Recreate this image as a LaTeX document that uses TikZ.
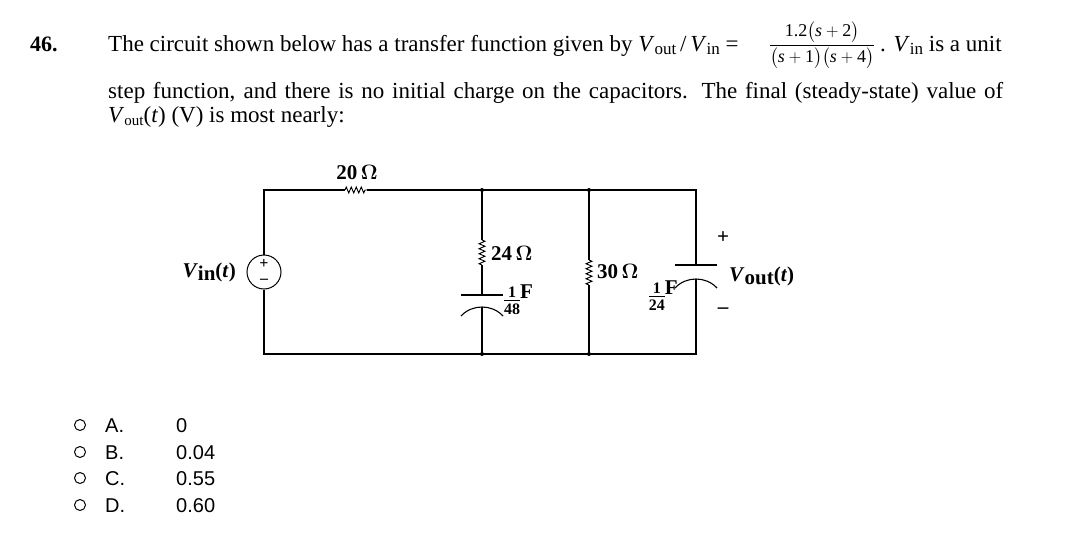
\documentclass[tikz,border=0pt]{standalone}
\usepackage{amsmath}
\usepackage{fontspec}
\setmainfont{Liberation Serif}
\newfontfamily\optfont{Liberation Sans}
\usetikzlibrary{decorations.pathmorphing}
\newcommand{\sbs}[1]{\raisebox{-0.3ex}{\fontsize{17}{17}\selectfont #1}}
\newcommand{\smfr}[2]{\raisebox{-0.55ex}{\fontsize{16}{16}\selectfont\begin{tabular}{@{}c@{}}\rule{0pt}{1.8ex}#1\\[-0.35ex]\hline\rule{0pt}{2ex}#2\end{tabular}}}
\begin{document}
\begin{tikzpicture}[x=1pt,y=-1pt,
  wire/.style={line width=1.1pt},
  res/.style={line width=0.9pt,decorate,decoration={zigzag,segment length=5pt,amplitude=3pt}},
  lbl/.style={inner sep=0pt,font=\fontsize{21}{24}\selectfont\bfseries},
  txt/.style={inner sep=0pt,anchor=base west,font=\fontsize{23}{24}\selectfont},
  opt/.style={inner sep=0pt,anchor=base west,font=\optfont\fontsize{20}{22}\selectfont},
  dot/.style={circle,fill,inner sep=0pt,minimum size=4pt}]
\useasboundingbox (0,0) rectangle (1080,541);
% text
\node[txt,font=\fontsize{22}{24}\selectfont\bfseries] (num) at (30,51) {46.};
\node[txt] (l1) at (108,51) {The circuit shown below has a transfer function given by \textit{V}\sbs{out}\,/\,\textit{V}\sbs{in} =};
\node[inner sep=0pt,font=\fontsize{18}{20}\selectfont] (frac) at (822,45) {$\dfrac{\text{1.2}\bigl(\textit{s}+\text{2}\bigr)}{\bigl(\textit{s}+\text{1}\bigr)\bigl(\textit{s}+\text{4}\bigr)}$};
\node[txt] (l1b) at (880,51) {. \textit{V}\sbs{in} is a unit};
\node[txt,text width=895pt,align=justify,anchor=north west] (l2) at (108,82) {step function, and there is no initial charge on the capacitors. The final (steady-state) value of \textit{V}\raisebox{-0.3ex}{\fontsize{15}{15}\selectfont out}(\textit{t}) (V) is most nearly:};
% nodes of circuit
\coordinate (tl) at (264,190); \coordinate (bl) at (264,354);
\coordinate (tm) at (482,190); \coordinate (bm) at (482,354);
\coordinate (tn) at (589,190); \coordinate (bn) at (589,354);
\coordinate (tr) at (696,190); \coordinate (br) at (696,354);
\node[draw,circle,line width=1pt,minimum size=34pt,inner sep=0pt] (src) at (264,272) {};
\node[inner sep=0pt,font=\fontsize{16}{16}\selectfont\bfseries] (sp) at (264,264) {+};
\node[inner sep=0pt,font=\fontsize{16}{16}\selectfont\bfseries] (sm) at (264,281) {--};
\node[lbl,anchor=east] (vin) at (236,272) {\textit{V}\raisebox{-0.4ex}{in}(\textit{t})};
% wires
\draw[wire] (src.north) -- (tl) -- (345,190);
\draw[res] (345,190) -- (367,190);
\draw[wire] (367,190) -- (tr) -- (696,265);
\draw[wire] (src.south) -- (bl) -- (br) -- (696,279);
\node[lbl] (r20) at (357,172) {20\,$\boldsymbol\Omega$};
% 24 ohm + 1/48F
\draw[wire] (tm) -- (482,240);
\draw[res] (482,240) -- (482,265);
\draw[wire] (482,265) -- (482,295);
\draw[wire] (461,295) -- (503,295);
\draw[wire] (461,316) .. controls (472,304) and (492,304) .. (503,316);
\draw[wire] (482,307) -- (bm);
\node[lbl,anchor=west] (r24) at (491,253) {24\,$\boldsymbol\Omega$};
\node[lbl,anchor=west] (c48) at (504,302) {\smfr{1}{48}\raisebox{0.3ex}{F}};
% 30 ohm
\draw[wire] (tn) -- (589,260);
\draw[res] (589,260) -- (589,285);
\draw[wire] (589,285) -- (bn);
\node[lbl,anchor=west] (r30) at (597,271) {30\,$\boldsymbol\Omega$};
% right cap
\draw[wire] (675,265) -- (717,265);
\draw[wire] (675,288) .. controls (686,276) and (706,276) .. (717,288);
\node[lbl,anchor=east] (c24) at (678,298) {\smfr{1}{24}\raisebox{0.3ex}{F}};
\node[lbl] (plus) at (723,238) {+};
\node[lbl] (minus) at (723,311) {--};
\node[lbl,anchor=west] (vout) at (729,276) {\textit{V}\raisebox{-0.4ex}{out}(\textit{t})};
\foreach \p in {tm,bm,tn,bn} \node[dot] at (\p) {};
% options
\foreach \y/\l/\v [count=\i] in {432/A./0, 459/B./0.04, 485/C./0.55, 512/D./0.60}{
  \node[draw,circle,line width=1pt,minimum size=11pt,inner sep=0pt] (o\i) at (80,\y-7) {};
  \node[opt] (ol\i) at (105,\y) {\l};
  \node[opt] (ov\i) at (176,\y) {\v};
}
\end{tikzpicture}
\end{document}
